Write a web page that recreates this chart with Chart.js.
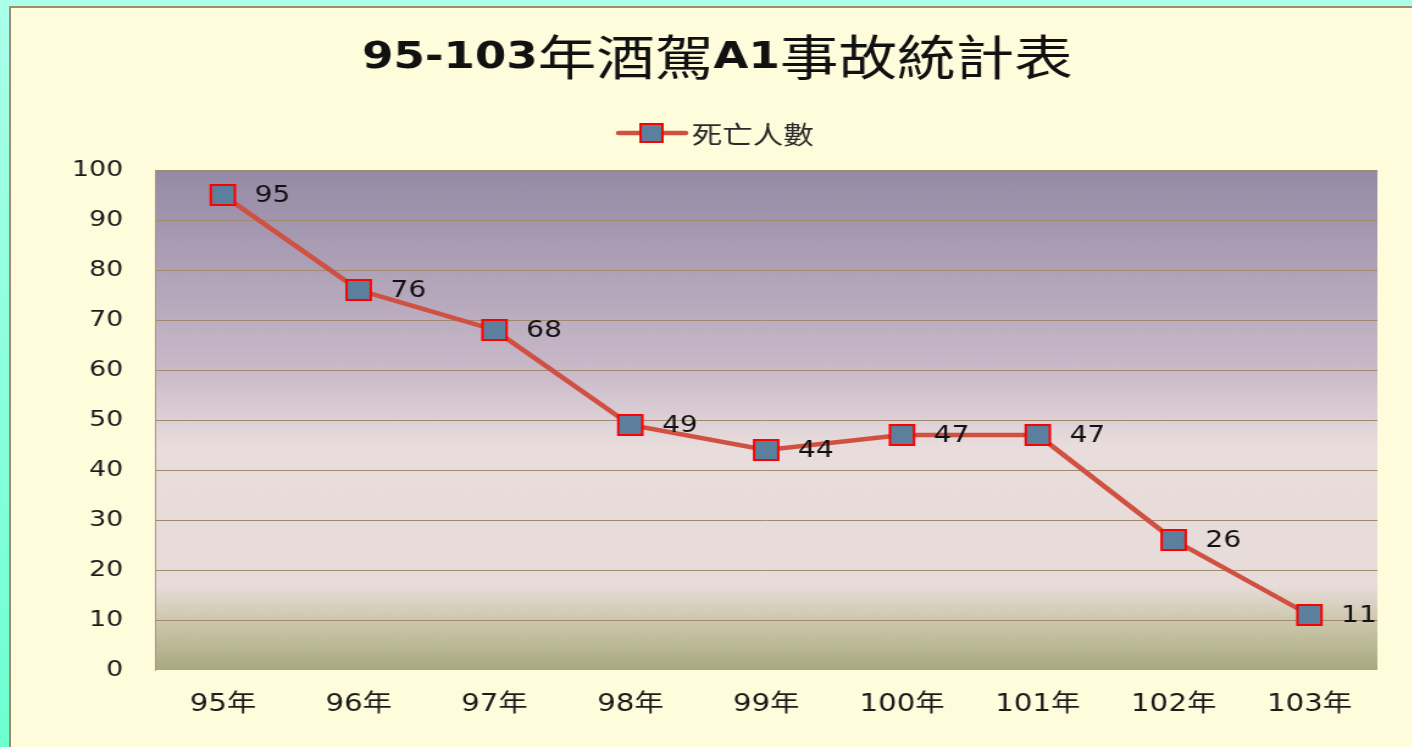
<!DOCTYPE html>
<html>
<head>
<meta charset="utf-8">
<script src="https://cdn.jsdelivr.net/npm/chart.js@4/dist/chart.umd.min.js"></script>
<style>
  html, body { margin: 0; padding: 0; }
  body {
    width: 1412px; height: 747px; overflow: hidden; position: relative;
    background: linear-gradient(#aaffea, #6cffd0);
  }
  #topStrip { position: absolute; left: 0; top: 0; width: 1412px; height: 6px; background: #aaffea; }
  #frame {
    position: absolute; left: 9px; top: 6px; width: 1500px; height: 800px;
    border: 2px solid #9c8c70; background: #fffcdc;
  }
  #wrap {
    position: absolute; left: 0; top: 0; width: 1158px; height: 747px;
    transform: scaleX(1.22); transform-origin: 0 0;
  }
</style>
</head>
<body>
<div id="topStrip"></div>
<div id="frame"></div>
<div id="wrap"><canvas id="chart" width="1158" height="747"></canvas></div>
<script>
// chart data
const titleText = '95-103年酒駕A1事故統計表';
const seriesName = '死亡人數';
const categories = ['95年', '96年', '97年', '98年', '99年', '100年', '101年', '102年', '103年'];
const deaths = [95, 76, 68, 49, 44, 47, 47, 26, 11];
const yTicks = [0, 10, 20, 30, 40, 50, 60, 70, 80, 90, 100];

const latinFont = '"DejaVu Sans", Verdana, sans-serif';
const cjkFont = '"Noto Sans CJK TC", "Noto Sans CJK SC", sans-serif';
const lineColor = '#d05042';
const markerFill = '#5d7f9e';
const markerEdge = '#ff0000';

// plot background gradient
const plotBg = {
    id: 'plotBg',
    beforeDraw(chart) {
        const { ctx, chartArea: a } = chart;
        const g = ctx.createLinearGradient(0, a.top, 0, a.bottom);
        g.addColorStop(0, '#958aa5');
        g.addColorStop(0.4, '#c9b9c9');
        g.addColorStop(0.55, '#e8dcdc');
        g.addColorStop(0.83, '#e8dcdb');
        g.addColorStop(0.9, '#cdc8ad');
        g.addColorStop(1, '#a9a880');
        ctx.save();
        ctx.fillStyle = g;
        ctx.fillRect(a.left, a.top, a.right - a.left, a.bottom - a.top);
        ctx.restore();
    }
};

// title + legend drawn by hand (mixed fonts)
const header = {
    id: 'header',
    afterDraw(chart) {
        const ctx = chart.ctx;
        ctx.save();
        const runs = titleText.match(/[\x00-\x7f]+|[^\x00-\x7f]+/g);
        const fontOf = r => /^[\x00-\x7f]/.test(r) ? 'bold 37px ' + latinFont : '48px ' + cjkFont;
        let total = 0;
        runs.forEach(r => { ctx.font = fontOf(r); total += ctx.measureText(r).width; });
        let x = 588 - total / 2;
        ctx.fillStyle = '#111';
        ctx.textBaseline = 'alphabetic';
        runs.forEach(r => {
            ctx.font = fontOf(r);
            const latin = /^[\x00-\x7f]/.test(r);
            ctx.fillText(r, x, latin ? 68 : 75);
            x += ctx.measureText(r).width;
        });

        // legend
        const ly = 133;
        ctx.strokeStyle = lineColor;
        ctx.lineWidth = 4.5;
        ctx.lineCap = 'round';
        ctx.beginPath();
        ctx.moveTo(507, ly);
        ctx.lineTo(562, ly);
        ctx.stroke();
        ctx.fillStyle = markerFill;
        ctx.strokeStyle = markerEdge;
        ctx.lineWidth = 2;
        ctx.fillRect(525, ly - 9, 18, 18);
        ctx.strokeRect(525, ly - 9, 18, 18);
        ctx.fillStyle = '#2a2a2a';
        ctx.font = '25px ' + cjkFont;
        ctx.textBaseline = 'middle';
        ctx.fillText(chart.data.datasets[0].label, 567, ly + 1);
        ctx.restore();
    }
};

// value labels right of the points
const valueLabels = {
    id: 'valueLabels',
    afterDatasetsDraw(chart) {
        const ctx = chart.ctx;
        const meta = chart.getDatasetMeta(0);
        ctx.save();
        ctx.font = '23px ' + latinFont;
        ctx.fillStyle = '#111';
        ctx.textAlign = 'left';
        ctx.textBaseline = 'middle';
        meta.data.forEach((pt, i) => {
            ctx.fillText(String(chart.data.datasets[0].data[i]), pt.x + 26, pt.y + 1);
        });
        ctx.restore();
    }
};

new Chart(document.getElementById('chart'), {
    type: 'line',
    data: {
        labels: categories,
        datasets: [{
            label: seriesName,
            data: deaths,
            borderColor: lineColor,
            borderWidth: 4.5,
            tension: 0,
            pointStyle: 'rect',
            pointRadius: 14,
            pointHoverRadius: 14,
            pointBackgroundColor: markerFill,
            pointBorderColor: markerEdge,
            pointBorderWidth: 2
        }]
    },
    options: {
        responsive: false,
        animation: false,
        devicePixelRatio: 1,
        layout: { padding: { top: 170, right: 29, left: 0, bottom: 0 } },
        plugins: {
            legend: { display: false },
            title: { display: false },
            tooltip: { enabled: false }
        },
        scales: {
            x: {
                offset: true,
                grid: { display: false, drawTicks: false },
                border: { display: false },
                ticks: {
                    padding: 20,
                    color: '#1a1a1a',
                    font: { family: latinFont + ', ' + cjkFont, size: 24 },
                    maxRotation: 0
                },
                afterFit(scale) { scale.height = 77; }
            },
            y: {
                min: 0,
                max: 100,
                afterBuildTicks(scale) { scale.ticks = yTicks.map(v => ({ value: v })); },
                grid: {
                    color: ctx => ctx.tick && ctx.tick.value === 0 ? 'rgba(0,0,0,0)' : '#a08a6e',
                    lineWidth: 1,
                    drawTicks: false
                },
                border: { display: true, color: '#a89a84', width: 1 },
                ticks: {
                    padding: 26,
                    color: '#1a1a1a',
                    font: { family: latinFont, size: 22 }
                },
                afterFit(scale) { scale.width = 127; }
            }
        }
    },
    plugins: [plotBg, header, valueLabels]
});
</script>
</body>
</html>
